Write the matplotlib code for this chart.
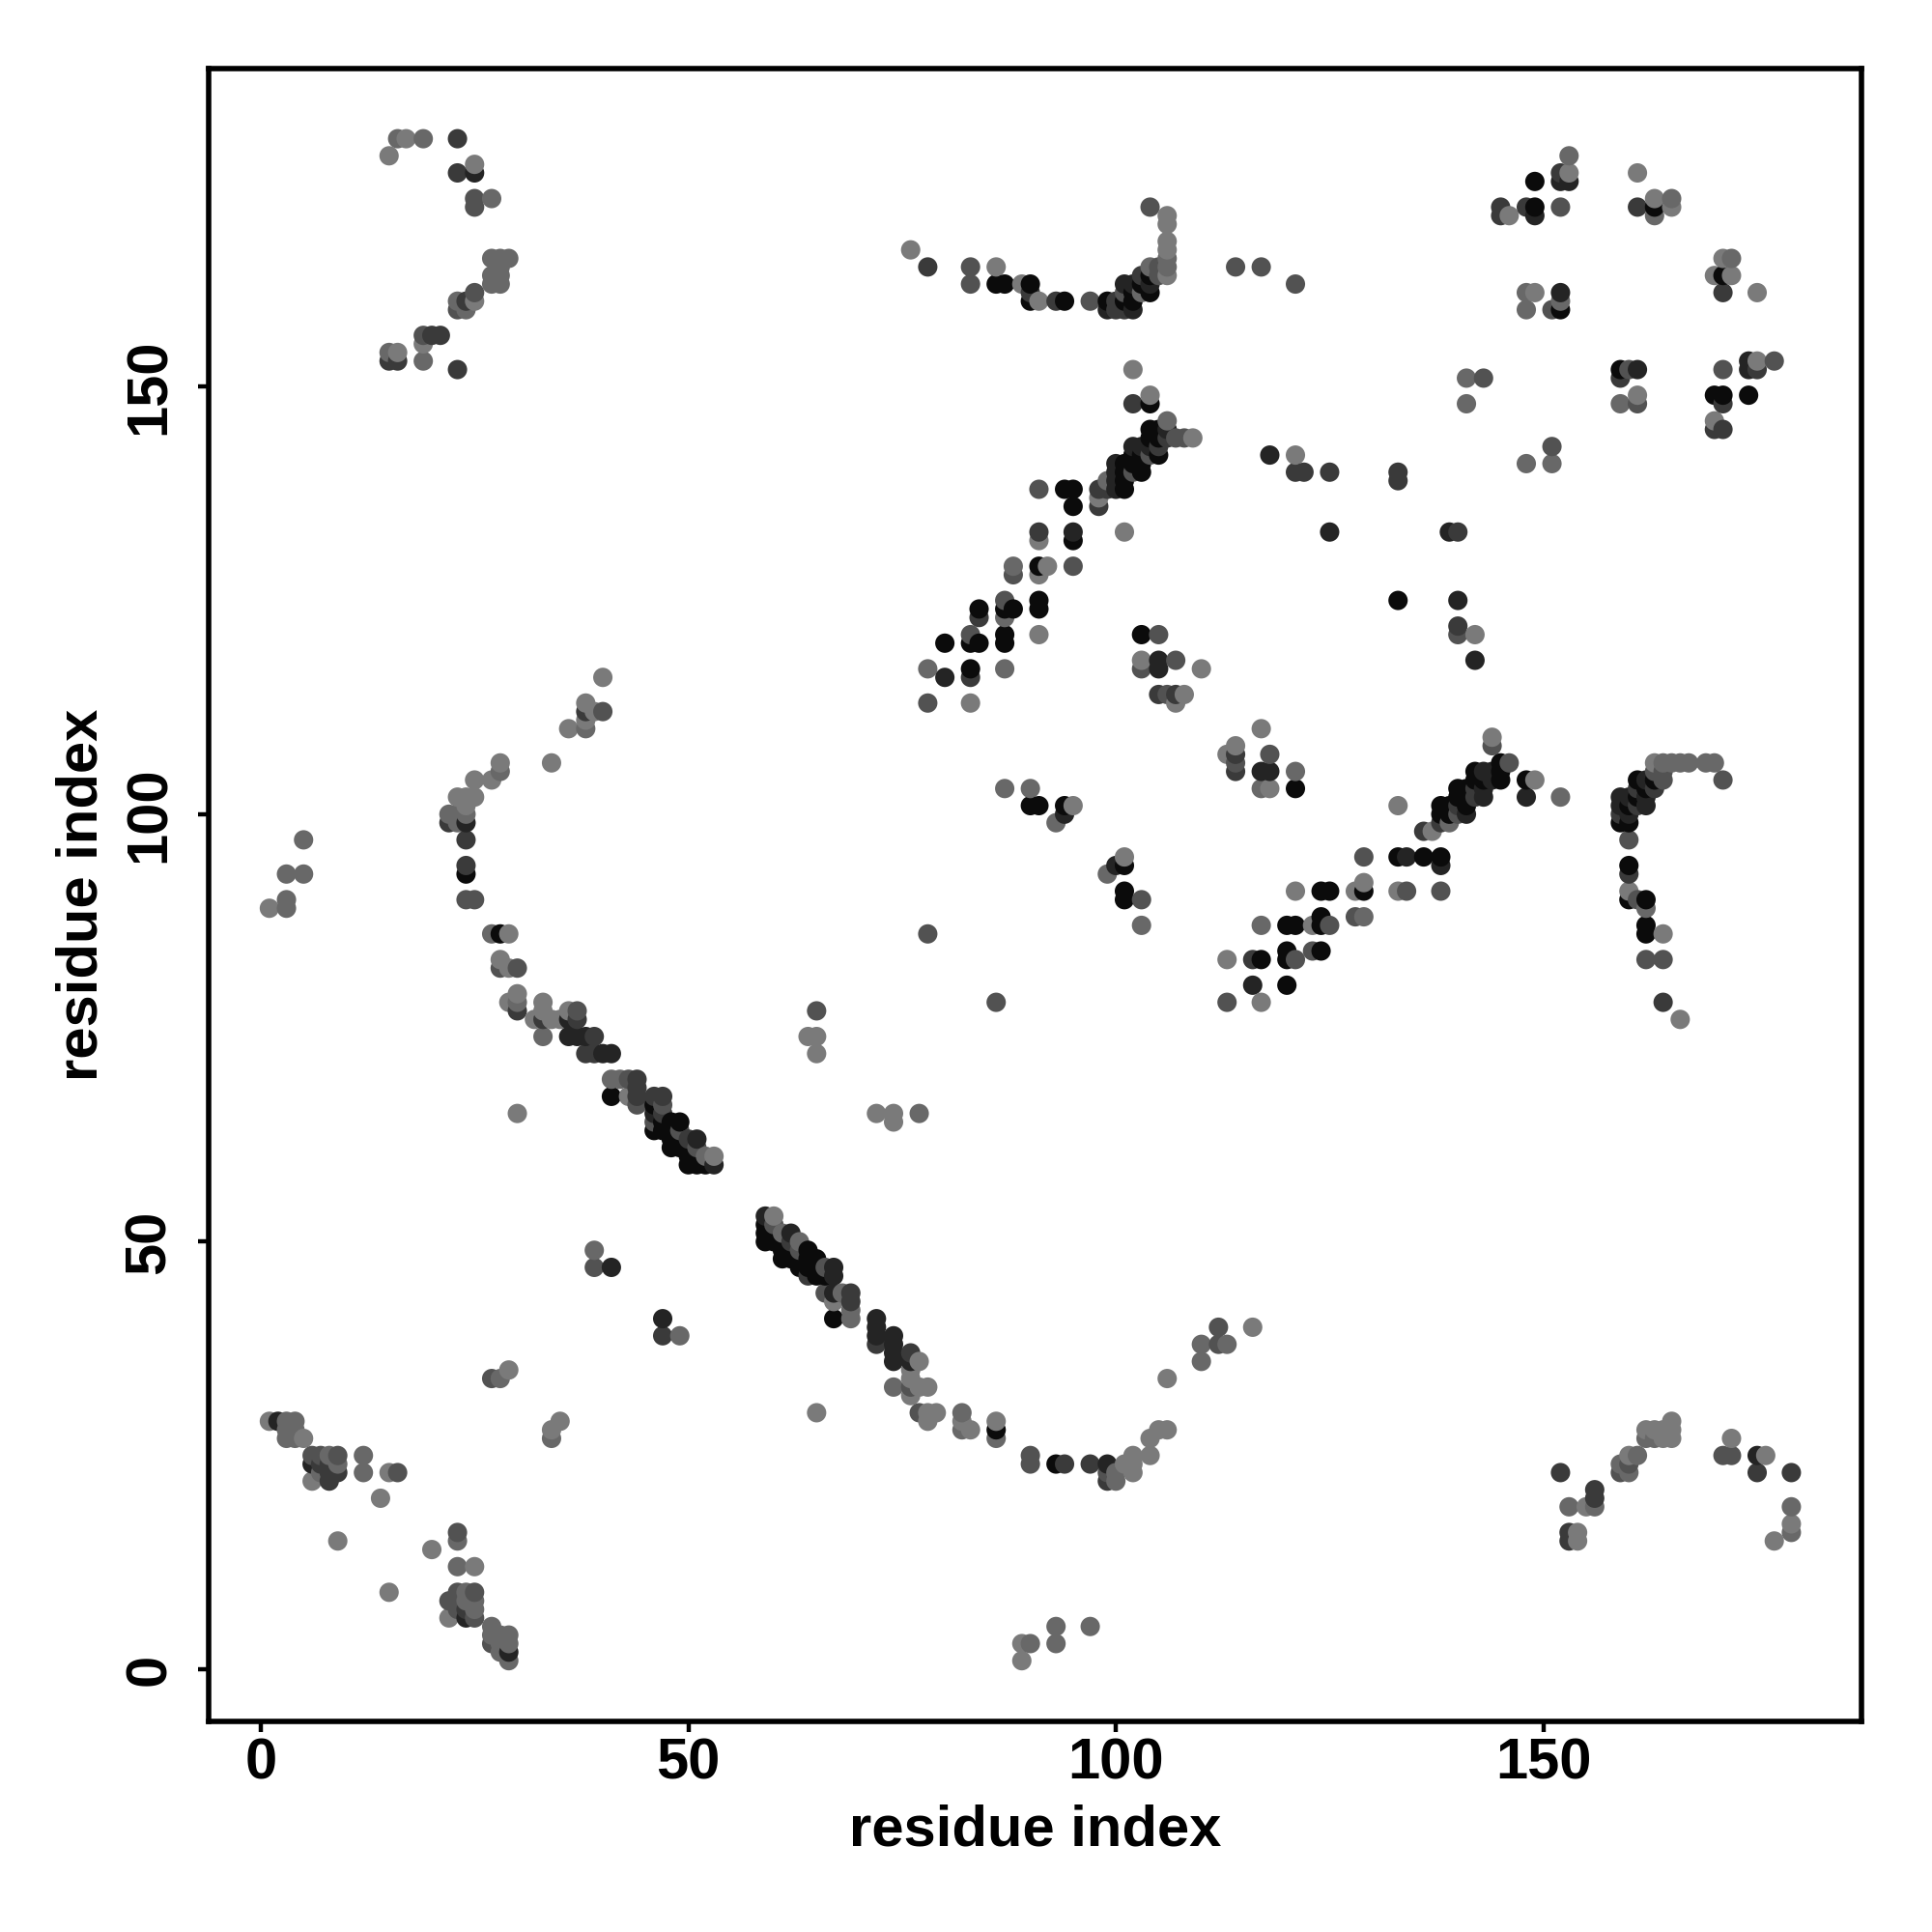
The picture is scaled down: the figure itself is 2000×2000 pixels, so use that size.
import numpy as np
import matplotlib
matplotlib.use('Agg')
import matplotlib.pyplot as plt

plt.rcParams['font.family'] = ['Liberation Sans', 'DejaVu Sans']

# contacts grouped by grey level, lightest first
light_x = [29,35,34,1,5,6,14,9,20,25,15,15,22,78,77,67,60,76,76,76,77,65,78,78,79,82,83,86,101,102,102,102,104,104,105,106,106,116,89,89,
           155,154,154,160,162,163,165,165,165,164,164,172,176,179,177,40,38,38,39,36,34,28,27,25,23,24,25,24,1,29,28,29,30,29,33,33,32,34,35,36,43,30,
           53,64,65,65,72,74,74,17,15,25,25,19,16,76,86,89,91,106,106,106,106,106,102,104,109,98,101,91,91,92,91,83,103,110,108,107,121,95,101,
           153,146,161,163,165,171,170,172,175,149,161,170,175,117,114,113,118,133,144,149,137,121,128,129,133,123,113,117,163,160,164,166,142]
light_y = [35,29,28,29,27,22,20,15,14,12,9,23,6,33,33,43,53,35,34,32,36,30,30,29,30,29,28,29,24,25,24,23,25,27,28,28,34,40,3,1,
           19,16,15,25,28,28,29,28,27,28,27,27,25,17,15,116,113,111,112,110,106,106,104,104,102,102,102,101,89,86,83,82,79,78,78,77,76,76,76,77,67,65,
           60,74,74,72,65,65,64,179,177,176,160,155,154,166,164,162,160,170,169,167,166,163,152,149,144,137,133,132,128,129,121,113,118,117,114,113,142,101,95,
           175,170,175,172,171,165,163,163,161,161,149,146,153,110,108,107,103,101,109,104,98,91,91,92,91,87,83,78,106,91,86,76,121]

mid_x = [39,49,28,34,3,4,3,4,3,4,8,12,9,12,7,23,23,24,24,25,25,27,27,28,29,28,29,28,29,
         68,69,69,74,82,82,86,100,100,93,97,90,93,63,61,153,156,159,160,161,162,163,179,179,
         38,28,22,23,24,23,5,3,5,3,3,27,30,33,41,42,52,110,110,113,77,
         16,19,27,27,28,29,27,28,28,27,28,23,24,15,19,104,103,106,106,106,99,88,87,78,87,
         87,90,93,99,103,153,148,148,152,163,165,172,141,141,159,151,148,
         121,117,152,139,129,117,164,165,166,167,169,170,162]
mid_y = [49,39,34,27,29,29,28,28,27,27,25,25,24,23,23,15,12,9,8,8,7,5,4,4,4,3,3,2,1,
         44,42,41,33,30,28,27,23,22,5,5,3,3,50,51,19,19,24,23,25,27,27,19,16,
         110,105,100,100,100,99,97,93,93,90,89,86,78,74,69,69,60,36,38,38,65,
         179,179,172,165,165,165,163,163,164,162,162,160,159,154,153,164,161,165,164,146,139,129,123,117,117,
         103,103,99,93,87,177,161,159,160,170,172,165,151,148,148,141,141,
         105,103,102,99,88,87,106,106,106,106,106,106,89]

dim_x = [39,27,16,6,7,9,23,23,25,22,23,23,25,27,60,63,66,66,76,77,90,90,99,112,112,78,86,159,160,171,172,
         40,24,25,28,30,37,43,44,47,46,49,51,65,25,25,25,23,19,83,83,97,101,105,105,114,117,104,121,
         91,102,104,107,108,88,95,87,83,105,107,103,78,106,103,152,161,160,171,177,143,151,151,
         114,118,144,146,129,134,138,128,125,123,121,113,140,171,163,164,164,161,160,162,164,140]
dim_y = [47,34,23,25,25,25,16,9,9,8,8,7,6,3,52,49,47,44,33,30,25,24,23,38,40,86,78,23,24,25,25,
         112,90,90,82,82,77,69,66,66,64,63,61,77,172,171,161,159,156,164,162,160,161,164,163,164,164,171,162,
         138,140,142,144,144,128,129,125,121,121,118,117,113,114,90,171,148,152,152,153,151,159,143,
         106,107,108,106,95,91,91,88,87,84,83,78,100,104,105,105,104,90,97,83,83,121]

dark_x = [47,7,8,8,9,8,24,72,76,90,94,97,99,62,64,69,69,152,156,156,153,153,175,179,
          38,22,24,24,30,33,37,39,38,39,44,44,44,46,47,47,50,23,23,24,20,21,15,16,23,
          78,93,100,100,101,103,102,106,105,98,99,98,91,84,83,105,107,121,122,125,133,133,140,
          152,145,145,148,161,171,159,175,171,170,171,114,114,116,136,138,142,142,140,161,163,161,159,160,164,140]
dark_y = [39,24,24,23,23,22,7,38,37,161,24,24,22,50,46,44,43,23,21,20,16,15,23,23,
          112,99,97,94,77,76,76,74,72,72,69,68,67,67,67,65,62,179,175,160,156,156,153,153,152,
          164,160,160,159,159,163,148,144,143,138,138,136,133,123,116,114,114,140,140,140,140,139,122,
          175,171,170,171,171,161,151,152,148,145,145,107,105,83,98,99,103,102,101,103,103,101,100,93,78,133]

deep_x = [41,2,6,24,29,59,62,67,67,67,72,72,72,74,74,74,74,76,99,175,47,24,36,36,37,38,40,41,46,51,53,25,
          99,101,102,102,104,102,103,104,106,100,100,100,100,95,80,105,105,118,125,139,140,142,
          152,153,149,161,152,174,174,117,118,143,144,144,143,143,141,134,138,148,116,94,100,
          162,159,160,162,159,162,160]
deep_y = [47,29,24,6,2,53,51,47,46,44,41,40,39,39,38,37,36,36,24,25,41,99,76,74,74,74,72,72,65,62,59,175,
          159,162,162,159,162,143,143,143,145,141,140,139,138,133,116,118,117,142,133,133,125,118,
          174,174,170,152,161,153,152,105,105,105,105,104,103,102,100,95,94,102,80,100,94,
          104,102,102,102,101,101,100]

black_x = [59,59,59,60,60,61,61,61,62,62,63,63,64,64,64,65,65,65,66,67,86,93,24,28,41,
           46,46,47,47,48,48,48,48,49,49,49,50,50,50,51,51,52,
           86,87,90,90,94,99,101,102,102,103,104,104,
           104,104,105,104,105,102,103,105,101,102,103,101,103,101,101,94,95,95,95,91,91,84,87,88,91,87,80,83,84,87,83,133,103,
           90,91,94,101,101,101,149,149,159,163,171,152,170,171,174,
           121,145,145,145,142,142,143,148,140,141,140,141,138,139,141,138,139,133,136,138,124,125,129,124,120,121,124,120,124,117,120,120,
           161,163,162,161,160,159,160,160,160,162,162,162]
black_y = [52,51,50,51,50,50,49,48,49,48,48,47,49,48,47,48,47,46,46,41,28,24,93,86,67,
           66,63,64,63,64,63,62,61,64,62,61,61,60,59,60,59,59,
           162,162,162,160,160,160,160,161,160,162,163,161,
           148,145,145,144,144,142,142,142,141,141,141,140,140,139,138,138,138,136,132,129,125,124,124,124,124,121,120,120,120,120,117,125,121,
           101,101,101,94,91,90,174,171,152,171,163,159,149,149,149,
           103,106,105,104,105,104,104,104,103,103,102,102,101,101,101,100,100,95,95,95,91,91,91,88,87,87,87,84,84,83,83,80,
           104,104,103,102,101,99,99,94,90,90,87,86]

groups = [(light_x, light_y, '#7a7a7a'),
          (mid_x, mid_y, '#686868'),
          (dim_x, dim_y, '#525252'),
          (dark_x, dark_y, '#3a3a3a'),
          (deep_x, deep_y, '#242424'),
          (black_x, black_y, '#0b0b0b')]

xs = np.concatenate([g[0] for g in groups])
ys = np.concatenate([g[1] for g in groups])
cols = np.concatenate([[g[2]] * len(g[0]) for g in groups])

# the original draws contacts sorted by first residue, then second
order = np.lexsort((ys, xs))

fig = plt.figure(figsize=(10, 10), dpi=200, facecolor='white')
ax = fig.add_axes([216 / 2000, 1 - 1782 / 2000, 1711 / 2000, 1711 / 2000])
ax.scatter(xs[order], ys[order], c=list(cols[order]), s=52, linewidths=0, clip_on=True)

ax.set_xlim(-6.1, 187.2)
ax.set_ylim(-6.1, 187.2)
ax.set_xticks([0, 50, 100, 150])
ax.set_yticks([0, 50, 100, 150])

for spine in ax.spines.values():
    spine.set_linewidth(2.0)

ax.tick_params(axis='x', length=4, width=1.6, pad=2, labelsize=21.5)
ax.tick_params(axis='y', length=4, width=1.6, pad=8, labelsize=21.5)
for lab in ax.get_xticklabels():
    lab.set_fontweight('bold')
for lab in ax.get_yticklabels():
    lab.set_fontweight('bold')
    lab.set_rotation(90)
    lab.set_va('center')

ax.set_xlabel('residue index', fontsize=21.5, fontweight='bold', labelpad=5)
ax.set_ylabel('residue index', fontsize=21.5, fontweight='bold', labelpad=5.5)

fig.savefig('out.png', dpi=200, facecolor='white')
plt.close(fig)
